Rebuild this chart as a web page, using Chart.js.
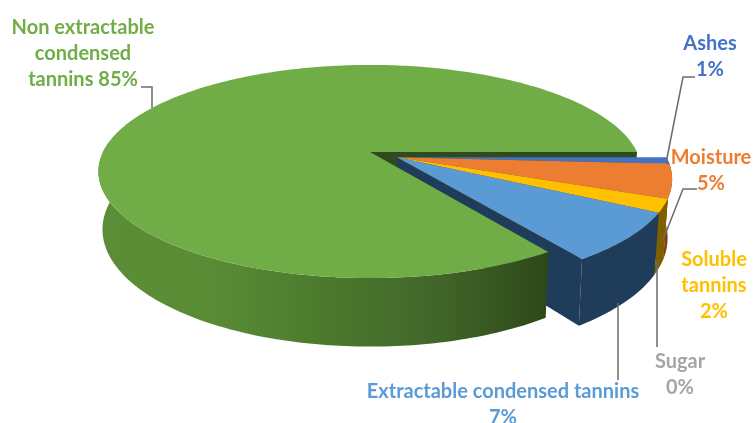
<!DOCTYPE html>
<html>
<head>
<meta charset="utf-8">
<style>
  html, body { margin: 0; padding: 0; background: #ffffff; }
  #wrap { width: 753px; height: 423px; }
  /* the reference is a soft, upscaled screenshot */
  #pie { display: block; filter: blur(0.5px); }
</style>
<script src="https://cdn.jsdelivr.net/npm/chart.js@4/dist/chart.umd.js"></script>
</head>
<body>
<div id="wrap"><canvas id="pie" width="753" height="423"></canvas></div>
<script>
const categories = ['Ashes', 'Moisture', 'Soluble tannins', 'Sugar', 'Extractable condensed tannins', 'Non extractable condensed tannins'];
// the labels show them rounded
const values = [1, 5, 2, 0, 7.4, 84.6];
const topColors = ['#4472c4', '#ed7d31', '#ffc000', '#a5a5a5', '#5b9bd5', '#70ad47'];
const sideColors = ['#203864', '#843c0c', '#7f6000', '#525252', '#1f3c5a', '#2f4a1c'];
const labelColors = ['#4472c4', '#ed7d31', '#ffc000', '#a5a5a5', '#5b9bd5', '#70ad47'];

// label text wrapped like the original, first line position kept apart
const labelLines = [
  ['Ashes', '1%'],
  ['Moisture', '5%'],
  ['Soluble', 'tannins', '2%'],
  ['Sugar', '0%'],
  ['Extractable condensed tannins', '7%'],
  ['Non extractable', 'condensed', 'tannins 85%']
];
const labelAnchors = [[710, 44], [711, 158], [714, 260], [680, 362], [503, 392], [83, 28]];
const leaderLines = [
  [[695, 77], [683, 77], [666, 163]],
  [[697, 189], [683, 189], [663, 240]],
  [[657, 262], [657, 347]],
  [[618, 303], [618, 380]],
  [[141, 87], [152, 87], [152, 108]]
];

// projection of the pie disc, perspective squeezes the far side
const view = { x: 370, y: 152, rx: 267, ry: 103, k: 0.183, depth: 56, shrink: 0.985, explodeU: 0.1, explodeV: 0.05 };

const project = (u, v, bottom) => {
  const w = 1 - view.k * v;
  const s = bottom ? view.shrink : 1;
  return {
    x: view.x + view.rx * u / w * s,
    y: view.y + view.ry * v / w + (bottom ? view.depth / w : 0)
  };
};

const fillPoly = (ctx, pts, color) => {
  ctx.beginPath();
  pts.forEach((p, i) => (i ? ctx.lineTo(p.x, p.y) : ctx.moveTo(p.x, p.y)));
  ctx.closePath();
  ctx.fillStyle = color;
  ctx.fill();
};

const arcSamples = (a0, a1) => {
  const n = Math.max(2, Math.ceil((a1 - a0) / (Math.PI / 180)));
  const out = [];
  for (let i = 0; i <= n; i++) out.push(a0 + (a1 - a0) * i / n);
  return out;
};

const edgeWall = (ctx, angle, du, dv, color) => {
  fillPoly(ctx, [
    project(du, dv, false),
    project(du + Math.cos(angle), dv + Math.sin(angle), false),
    project(du + Math.cos(angle), dv + Math.sin(angle), true),
    project(du, dv, true)
  ], color);
};

const drawSlice = (ctx, arc, index, du, dv, sideFill) => {
  const angles = arcSamples(arc.startAngle, arc.endAngle);
  // outer rim, only the part that faces the viewer (stop a bit past the left edge)
  const front = angles.filter(a => a < Math.PI + 0.12);
  const rimTop = front.map(a => project(du + Math.cos(a), dv + Math.sin(a), false));
  const rimBottom = front.map(a => project(du + Math.cos(a), dv + Math.sin(a), true)).reverse();
  fillPoly(ctx, rimTop.concat(rimBottom), sideFill);
  // top face
  fillPoly(ctx, [project(du, dv, false)].concat(
    angles.map(a => project(du + Math.cos(a), dv + Math.sin(a), false))
  ), topColors[index]);
};

const pie3d = {
  id: 'pie3d',
  beforeDatasetsDraw(chart) {
    const ctx = chart.ctx;
    const arcs = chart.getDatasetMeta(0).data;
    const main = arcs.length - 1;
    ctx.save();
    // wall of the big slice along its opening edge
    edgeWall(ctx, arcs[main].endAngle, 0, 0, sideColors[main]);
    // pulled out slices, back to front
    arcs.forEach((arc, i) => {
      if (i === main || values[i] === 0) return;
      edgeWall(ctx, arc.endAngle, view.explodeU, view.explodeV, sideColors[i]);
      drawSlice(ctx, arc, i, view.explodeU, view.explodeV, sideColors[i]);
    });
    // big slice last, its rim has a sideways shade
    const shade = ctx.createLinearGradient(97, 0, 546, 0);
    shade.addColorStop(0, '#5a8d35');
    shade.addColorStop(0.25, '#5a8c36');
    shade.addColorStop(0.5, '#4c7a2d');
    shade.addColorStop(0.75, '#42662a');
    shade.addColorStop(1, '#2d4818');
    drawSlice(ctx, arcs[main], main, 0, 0, shade);
    ctx.restore();
    return false;
  },
  afterDraw(chart) {
    const ctx = chart.ctx;
    ctx.save();
    ctx.strokeStyle = '#6b6b6b';
    ctx.lineWidth = 1.5;
    leaderLines.forEach(line => {
      ctx.beginPath();
      line.forEach((p, i) => (i ? ctx.lineTo(p[0], p[1]) : ctx.moveTo(p[0], p[1])));
      ctx.stroke();
    });
    ctx.font = 'bold 20px Lato, "Open Sans", sans-serif';
    ctx.textAlign = 'center';
    ctx.textBaseline = 'middle';
    labelLines.forEach((lines, i) => {
      ctx.fillStyle = labelColors[i];
      lines.forEach((text, j) => ctx.fillText(text, labelAnchors[i][0], labelAnchors[i][1] + j * 26));
    });
    ctx.restore();
  }
};

new Chart(document.getElementById('pie'), {
  type: 'pie',
  data: {
    labels: categories,
    datasets: [{ data: values, backgroundColor: topColors, borderWidth: 0 }]
  },
  options: {
    responsive: false,
    animation: false,
    rotation: 90,
    plugins: { legend: { display: false }, tooltip: { enabled: false } }
  },
  plugins: [pie3d]
});
</script>
</body>
</html>
